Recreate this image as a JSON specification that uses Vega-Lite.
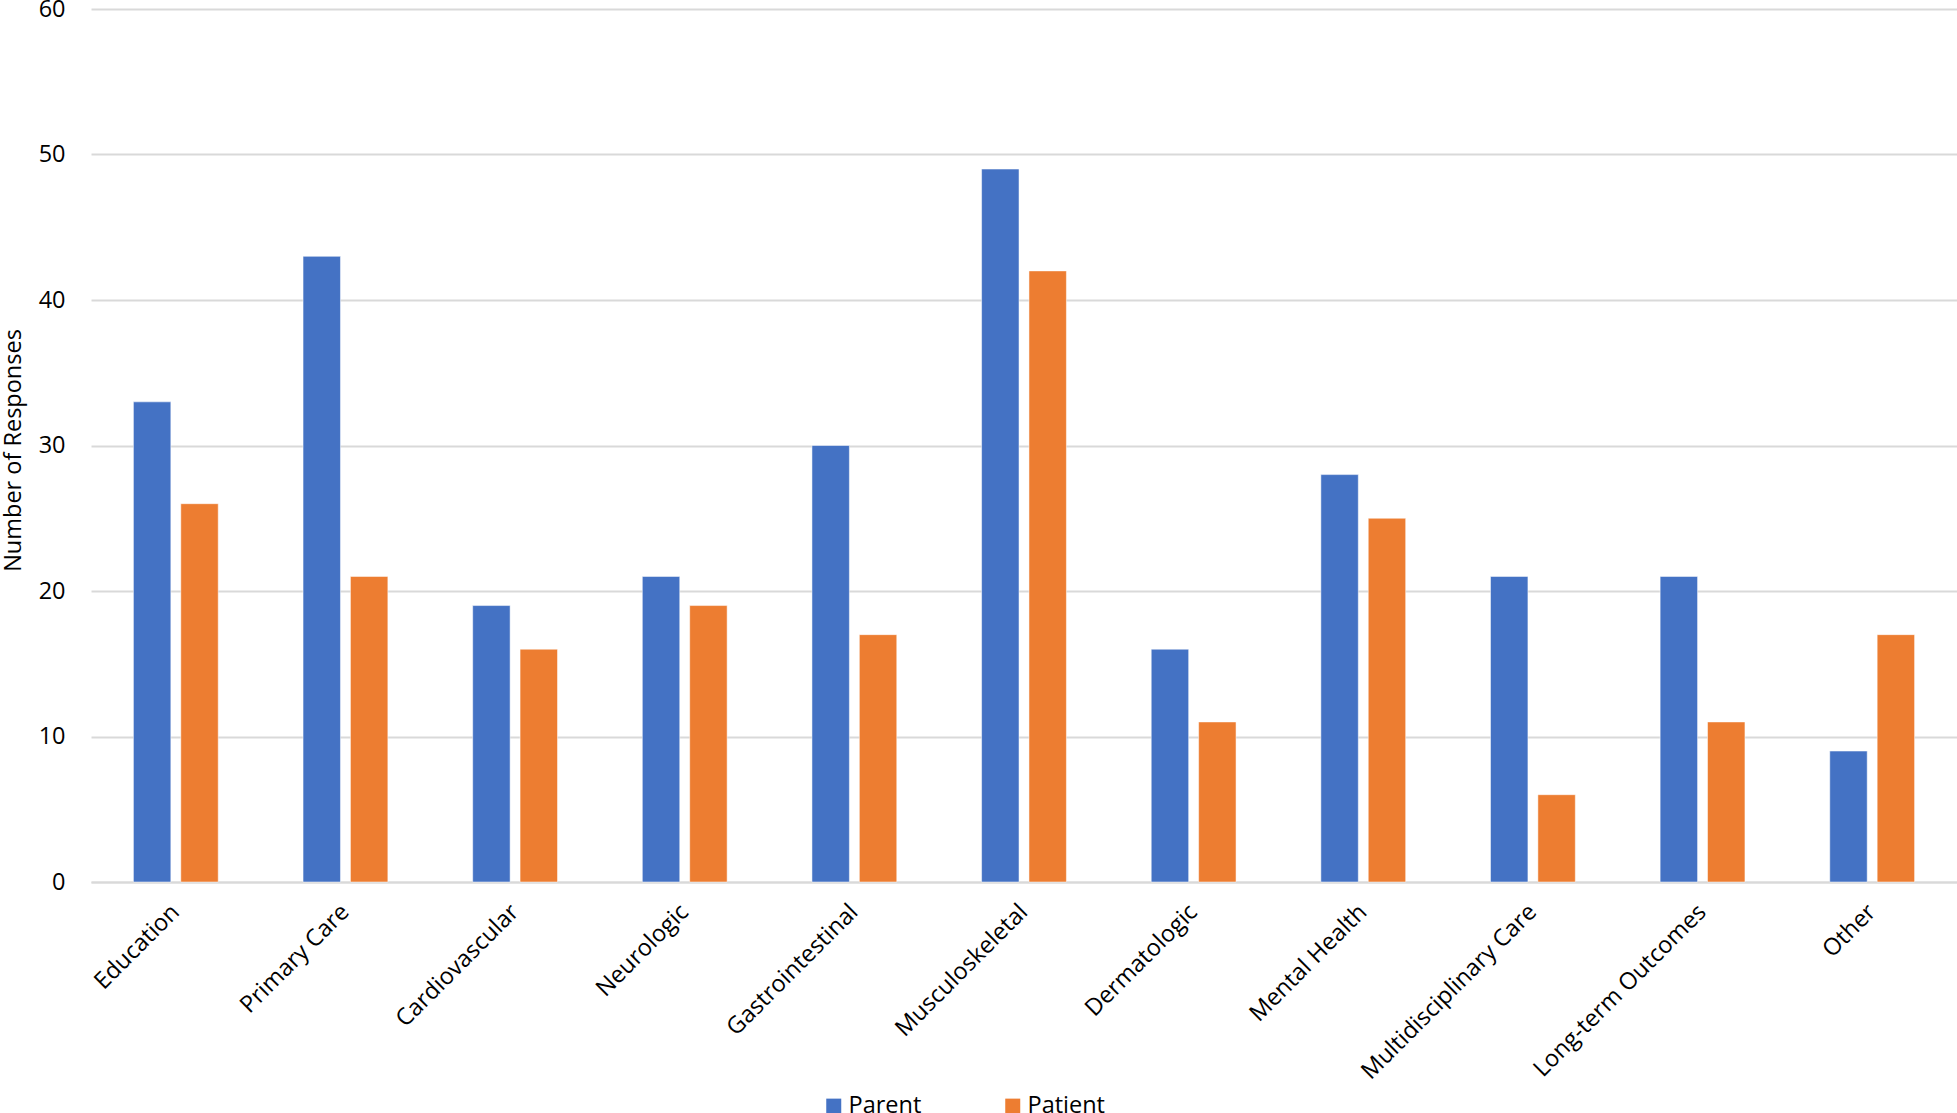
{
  "$schema": "https://vega.github.io/schema/vega-lite/v6.json",
  "width": 1866,
  "height": 873,
  "autosize": {"type": "none"},
  "padding": {"left": 91, "top": 9, "right": 0, "bottom": 231},
  "background": "white",
  "config": {
    "view": {"stroke": null},
    "font": "Open Sans",
    "axis": {"labelFont": "Open Sans", "titleFont": "Open Sans", "labelColor": "#000000", "titleColor": "#000000"},
    "legend": {"labelFont": "Open Sans"}
  },
  "data": {
    "values": [
      {"category": "Education", "group": "Parent", "value": 33},
      {"category": "Education", "group": "Patient", "value": 26},
      {"category": "Primary Care", "group": "Parent", "value": 43},
      {"category": "Primary Care", "group": "Patient", "value": 21},
      {"category": "Cardiovascular", "group": "Parent", "value": 19},
      {"category": "Cardiovascular", "group": "Patient", "value": 16},
      {"category": "Neurologic", "group": "Parent", "value": 21},
      {"category": "Neurologic", "group": "Patient", "value": 19},
      {"category": "Gastrointestinal", "group": "Parent", "value": 30},
      {"category": "Gastrointestinal", "group": "Patient", "value": 17},
      {"category": "Musculoskeletal", "group": "Parent", "value": 49},
      {"category": "Musculoskeletal", "group": "Patient", "value": 42},
      {"category": "Dermatologic", "group": "Parent", "value": 16},
      {"category": "Dermatologic", "group": "Patient", "value": 11},
      {"category": "Mental Health", "group": "Parent", "value": 28},
      {"category": "Mental Health", "group": "Patient", "value": 25},
      {"category": "Multidisciplinary Care", "group": "Parent", "value": 21},
      {"category": "Multidisciplinary Care", "group": "Patient", "value": 6},
      {"category": "Long-term Outcomes", "group": "Parent", "value": 21},
      {"category": "Long-term Outcomes", "group": "Patient", "value": 11},
      {"category": "Other", "group": "Parent", "value": 9},
      {"category": "Other", "group": "Patient", "value": 17}
    ]
  },
  "mark": {"type": "bar", "stroke": "white", "strokeWidth": 1, "strokeOpacity": 0.5},
  "encoding": {
    "x": {
      "field": "category",
      "type": "nominal",
      "sort": null,
      "scale": {"paddingInner": 0.5, "paddingOuter": 0.25},
      "axis": {
        "title": null,
        "labelAngle": -45,
        "labelAlign": "right",
        "labelBaseline": "middle",
        "labelFontSize": 23.5,
        "labelPadding": 26,
        "ticks": false,
        "domainColor": "#d9d9d9",
        "domainWidth": 2,
        "labelOverlap": false,
        "labelLimit": 0
      }
    },
    "xOffset": {
      "field": "group",
      "type": "nominal",
      "scale": {"paddingInner": 0.21, "paddingOuter": 0}
    },
    "y": {
      "field": "value",
      "type": "quantitative",
      "scale": {"domain": [0, 60], "nice": false},
      "axis": {
        "title": "Number of Responses",
        "titleFontSize": 23.5,
        "titleFontWeight": "normal",
        "titleX": -78,
        "titleY": 441,
        "titleAngle": -90,
        "titleAlign": "center",
        "titleBaseline": "middle",
        "values": [0, 10, 20, 30, 40, 50, 60],
        "labelFontSize": 23.5,
        "labelPadding": 26,
        "ticks": false,
        "domain": false,
        "gridColor": "#d9d9d9",
        "gridWidth": 2
      }
    },
    "color": {
      "field": "group",
      "type": "nominal",
      "scale": {"domain": ["Parent", "Patient"], "range": ["#4472C4", "#ED7D31"]},
      "legend": {
        "title": null,
        "orient": "none",
        "direction": "horizontal",
        "legendX": 731,
        "legendY": 1085,
        "symbolType": "square",
        "symbolSize": 225,
        "symbolStrokeWidth": 0,
        "labelFontSize": 23.5,
        "labelOffset": 3,
        "columnPadding": 79,
        "padding": 0
      }
    }
  }
}
